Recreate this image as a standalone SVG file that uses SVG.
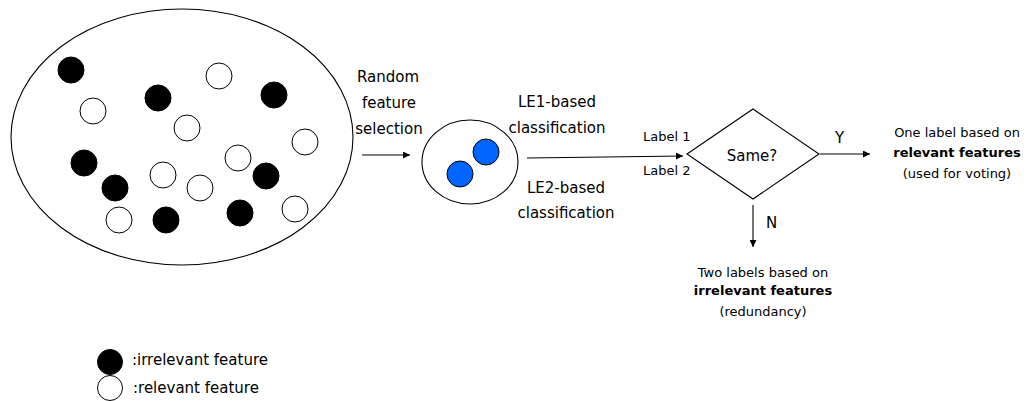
<svg xmlns="http://www.w3.org/2000/svg" width="1028" height="401" viewBox="0 0 1028 401">
<defs>
<style>
text{font-family:"DejaVu Sans","Liberation Sans",sans-serif;fill:#000}
.t15{font-size:15px}
.t13{font-size:13px}
.b{font-weight:bold}
.mid{text-anchor:middle}
.blk{fill:#000;stroke:#000;stroke-width:1}
.wht{fill:#fff;stroke:#000;stroke-width:1}
.blu{fill:#0066ff;stroke:#000;stroke-width:1}
.ln{fill:none;stroke:#000;stroke-width:1.1}
</style>
<marker id="ah" viewBox="0 0 10 10" refX="10" refY="5" markerWidth="10" markerHeight="7" markerUnits="userSpaceOnUse" orient="auto">
<path d="M0,0 L10,5 L0,10 z" fill="#000"/>
</marker>
</defs>
<rect width="1028" height="401" fill="#fff"/>

<g id="feature-pool">
<ellipse cx="182" cy="137" rx="171" ry="128" class="ln"/>
<circle cx="71" cy="70" r="13" class="blk"/>
<circle cx="158" cy="98" r="13" class="blk"/>
<circle cx="274" cy="95" r="13" class="blk"/>
<circle cx="84" cy="163" r="13" class="blk"/>
<circle cx="115" cy="188" r="13" class="blk"/>
<circle cx="266" cy="176" r="13" class="blk"/>
<circle cx="166" cy="220" r="13" class="blk"/>
<circle cx="240" cy="213" r="13" class="blk"/>
<circle cx="219" cy="76" r="13" class="wht"/>
<circle cx="93" cy="111" r="13" class="wht"/>
<circle cx="187" cy="128" r="13" class="wht"/>
<circle cx="305" cy="142" r="13" class="wht"/>
<circle cx="238" cy="158" r="13" class="wht"/>
<circle cx="163" cy="175" r="13" class="wht"/>
<circle cx="200" cy="188" r="13" class="wht"/>
<circle cx="119" cy="220" r="13" class="wht"/>
<circle cx="295" cy="209" r="13" class="wht"/>
</g>

<g id="random-selection-label">
<text class="t15 mid" x="388" y="82">Random</text>
<text class="t15 mid" x="389" y="108">feature</text>
<text class="t15 mid" x="389" y="134">selection</text>
</g>

<g id="subset">
<ellipse cx="470" cy="162" rx="48" ry="42" class="ln"/>
<circle cx="486" cy="152" r="13" class="blu"/>
<circle cx="460" cy="174" r="13" class="blu"/>
</g>

<g id="classification-labels">
<text class="t15 mid" x="557" y="107">LE1-based</text>
<text class="t15 mid" x="557" y="133">classification</text>
<text class="t15 mid" x="566" y="193">LE2-based</text>
<text class="t15 mid" x="566" y="218">classification</text>
<text class="t13" x="643" y="141">Label 1</text>
<text class="t13" x="643" y="175">Label 2</text>
</g>

<g id="decision">
<polygon points="687,154 753,109 819,154 753,199" class="ln"/>
<text class="t15 mid" x="752" y="161">Same?</text>
</g>

<g id="yes-result">
<text class="t13 mid" x="957" y="137">One label based on</text>
<text class="t13 mid b" x="957" y="157">relevant features</text>
<text class="t13 mid" x="957" y="178">(used for voting)</text>
</g>

<g id="no-result">
<text class="t13 mid" x="763" y="277">Two labels based on</text>
<text class="t13 mid b" x="763" y="295">irrelevant features</text>
<text class="t13 mid" x="763" y="316">(redundancy)</text>
</g>

<g id="connectors">
<line x1="362" y1="155" x2="410" y2="155" class="ln" marker-end="url(#ah)"/>
<line x1="527" y1="158" x2="683" y2="156" class="ln" marker-end="url(#ah)"/>
<line x1="820" y1="154" x2="870" y2="154" class="ln" marker-end="url(#ah)"/>
<line x1="753" y1="205" x2="753" y2="247" class="ln" marker-end="url(#ah)"/>
<text class="t15" x="835" y="143">Y</text>
<text class="t15" x="766" y="228">N</text>
</g>

<g id="legend">
<circle cx="110" cy="362" r="12.5" class="blk"/>
<circle cx="110" cy="388" r="12.5" class="wht"/>
<text class="t15" x="132" y="365">:irrelevant feature</text>
<text class="t15" x="133" y="393">:relevant feature</text>
</g>
</svg>
